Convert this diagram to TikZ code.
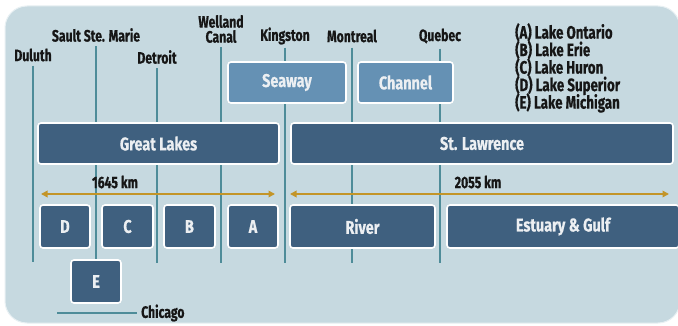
\documentclass[tikz,border=0pt]{standalone}
\usepackage{fontspec}
\setmainfont{Fira Sans}[FakeStretch=0.74, BoldFeatures={FakeBold=0.6}]
\newfontfamily\boxfont{Fira Sans}[FakeStretch=0.78, BoldFeatures={FakeBold=0.4}]
\usetikzlibrary{arrows.meta}

\definecolor{panel}{HTML}{C6D9E0}
\definecolor{deep}{HTML}{3F607F}
\definecolor{lightsea}{HTML}{6591B4}
\definecolor{route}{HTML}{4E8C99}
\definecolor{gold}{HTML}{C39528}
\definecolor{ink}{HTML}{161616}

% keep stacked label lines at a fixed baseline distance
\newcommand{\tightlines}{\setlength{\lineskiplimit}{-20pt}}

\tikzset{
  basebox/.style={draw=white, line width=1.6pt, rounded corners=3pt, inner sep=0pt,
    text=white!90!deep, font=\boxfont\bfseries\fontsize{18.5}{18}\selectfont},
  lakebox/.style={basebox, fill=deep},
  seabox/.style={basebox, fill=lightsea},
  place/.style={inner sep=0pt, text=ink, align=center,
    font=\bfseries\fontsize{16.5}{15}\selectfont\tightlines},
  legend/.style={inner sep=0pt, text=ink, align=left, anchor=north west,
    font=\bfseries\fontsize{18}{17.5}\selectfont\tightlines},
  routeline/.style={route, line width=2pt},
  spanline/.style={gold, line width=2pt, {Triangle[length=6.5pt,width=6.5pt]}-{Triangle[length=6.5pt,width=6.5pt]}},
  kmlabel/.style={inner sep=0pt, text=ink, font=\bfseries\fontsize{16.5}{14}\selectfont}
}

\begin{document}
\begin{tikzpicture}[x=1pt, y=-1pt]
  \useasboundingbox (0,0) rectangle (678,326);
  % background panel
  \fill[white] (0,0) rectangle (678,326);
  \path[fill=panel, draw=white!60!panel, line width=1pt, rounded corners=22pt]
    (5,6) rectangle (680,323);

  % place labels
  \node[place] (duluth)  at (33,55)  {Duluth};
  \node[place] (sault)   at (96,35)  {Sault Ste. Marie};
  \node[place] (detroit) at (157,57) {Detroit};
  \node[place] (welland) at (221,29) {Welland\\Canal};
  \node[place] (kingston) at (285,36) {Kingston};
  \node[place] (montreal) at (352,36) {Montreal};
  \node[place] (quebec)  at (440,36) {Quebec};

  % lower ends of the route lines
  \coordinate (duluthEnd)   at (33,262);
  \coordinate (saultEnd)    at (96,259);
  \coordinate (detroitEnd)  at (157,263);
  \coordinate (wellandEnd)  at (221,263);
  \coordinate (kingstonEnd) at (285,263);
  \coordinate (montrealEnd) at (352,263);
  \coordinate (quebecEnd)   at (440,263);

  % route lines (drawn first so the boxes sit on top)
  \draw[routeline] (duluth.south)   ++(0,4) -- (duluthEnd);
  \draw[routeline] (sault.south)    ++(0,4) -- (saultEnd);
  \draw[routeline] (detroit.south)  ++(0,4) -- (detroitEnd);
  \draw[routeline] (welland.south)  ++(0,4) -- (wellandEnd);
  \draw[routeline] (kingston.south) ++(0,3) -- (kingstonEnd);
  \draw[routeline] (montreal.south) ++(0,5) -- (montrealEnd);
  \draw[routeline] (quebec.south)   ++(0,5) -- (quebecEnd);

  % upper row
  \node[seabox, minimum width=118, minimum height=41] (seaway)  at (287,82.5)  {Seaway};
  \node[seabox, minimum width=95,  minimum height=41] (channel) at (405.5,82.5) {Channel};

  % middle row
  \node[lakebox, minimum width=241, minimum height=41] (greatlakes) at (158.5,143.5) {Great Lakes};
  \node[lakebox, minimum width=382, minimum height=41] (stlawrence) at (482,143.5) {St. Lawrence};

  % distance spans
  \coordinate (lakesW) at (41,194);
  \coordinate (lakesE) at (275,194);
  \coordinate (riverW) at (290,194);
  \coordinate (riverE) at (669,194);
  \draw[spanline] (lakesW) -- (lakesE);
  \draw[spanline] (riverW) -- (riverE);
  \node[kmlabel] (km1) at (115,182) {1645 km};
  \node[kmlabel] (km2) at (478,182) {2055 km};

  % lower row
  \node[lakebox, minimum width=50,  minimum height=43] (lakeD) at (65,226.5)   {D};
  \node[lakebox, minimum width=51,  minimum height=43] (lakeC) at (127.5,226.5) {C};
  \node[lakebox, minimum width=51,  minimum height=43] (lakeB) at (189.5,226.5) {B};
  \node[lakebox, minimum width=50,  minimum height=43] (lakeA) at (253,226.5)   {A};
  \node[lakebox, minimum width=145, minimum height=43] (river) at (362.5,226.5) {River};
  \node[lakebox, minimum width=232, minimum height=43] (estuary) at (563,226.5) {Estuary \& Gulf};
  \node[lakebox, minimum width=50,  minimum height=43] (lakeE) at (96,281.5)   {E};

  % Chicago
  \node[place, anchor=west] (chicago) at (141,313) {Chicago};
  \coordinate (chicagoW) at (57,313);
  \draw[routeline] (chicagoW) -- ([xshift=-4pt]chicago.west);

  % key
  \node[legend] (key) at (515,23) {(A) Lake Ontario\\(B) Lake Erie\\(C) Lake Huron\\(D) Lake Superior\\(E) Lake Michigan};
\end{tikzpicture}
\end{document}
